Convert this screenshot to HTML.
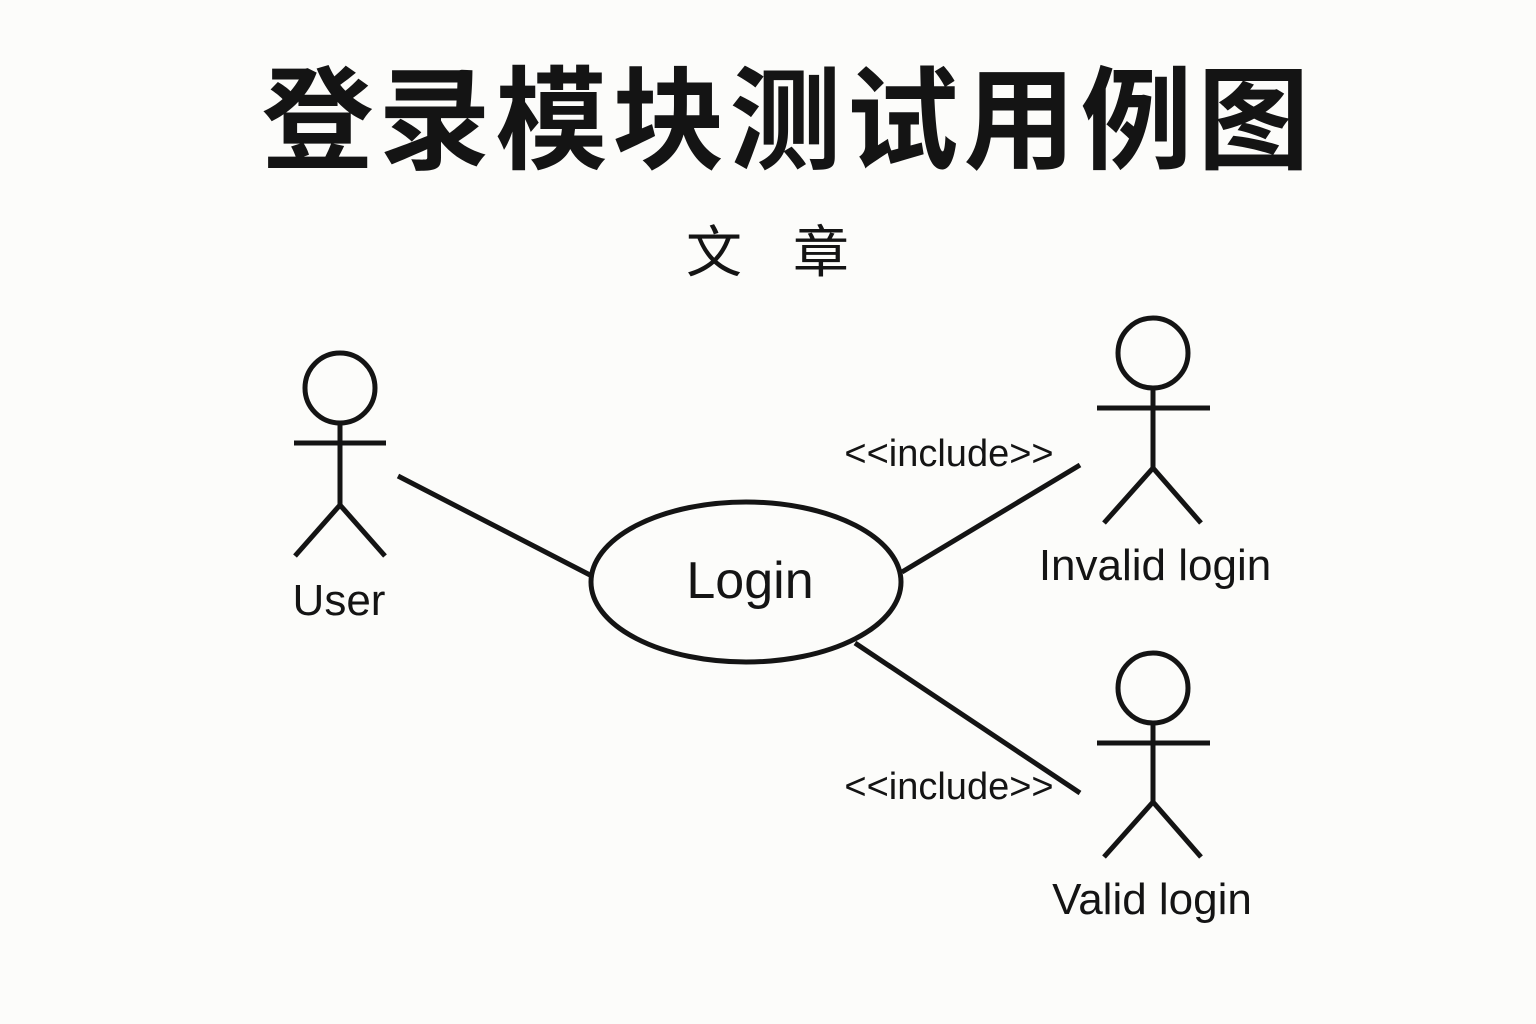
<!DOCTYPE html>
<html><head><meta charset="utf-8"><style>
html,body{margin:0;padding:0;background:#fcfcfa;}
svg{display:block}
</style></head><body>
<svg width="1536" height="1024" viewBox="0 0 1536 1024" xmlns="http://www.w3.org/2000/svg">
<rect width="1536" height="1024" fill="#fcfcfa"/>
<text x="788" y="160" text-anchor="middle" font-family="'Liberation Sans','Noto Sans CJK SC',sans-serif" font-weight="bold" font-size="112" letter-spacing="5" fill="#141414">登录模块测试用例图</text>
<g font-family="'Liberation Sans','Noto Sans CJK SC',sans-serif" font-size="56" fill="#141414" text-anchor="middle">
<text x="714" y="272">文</text>
<text x="821" y="272">章</text>
</g>
<g stroke="#141414" stroke-width="5" fill="none" stroke-linecap="butt">
<circle cx="340" cy="388" r="35"/>
<line x1="294" y1="443" x2="386" y2="443"/>
<line x1="340" y1="423" x2="340" y2="505"/>
<line x1="340" y1="505" x2="295" y2="556"/>
<line x1="340" y1="505" x2="385" y2="556"/>
<circle cx="1153" cy="353" r="35"/>
<line x1="1097" y1="408" x2="1210" y2="408"/>
<line x1="1153" y1="388" x2="1153" y2="468"/>
<line x1="1153" y1="468" x2="1104" y2="523"/>
<line x1="1153" y1="468" x2="1201" y2="523"/>
<circle cx="1153" cy="688" r="35"/>
<line x1="1097" y1="743" x2="1210" y2="743"/>
<line x1="1153" y1="723" x2="1153" y2="802"/>
<line x1="1153" y1="802" x2="1104" y2="857"/>
<line x1="1153" y1="802" x2="1201" y2="857"/>
<ellipse cx="746" cy="582" rx="155" ry="80"/>
<line x1="398" y1="476" x2="590" y2="575"/>
<line x1="902" y1="572" x2="1080" y2="465"/>
<line x1="855" y1="643" x2="1080" y2="793"/>
</g>
<g font-family="'Liberation Sans','DejaVu Sans',sans-serif" fill="#141414" text-anchor="middle">
<text x="339" y="615" font-size="44">User</text>
<text x="750" y="598" font-size="52">Login</text>
<text x="1155" y="580" font-size="44">Invalid login</text>
<text x="1152" y="914" font-size="44">Valid login</text>
<text x="949" y="466" font-size="38">&lt;&lt;include&gt;&gt;</text>
<text x="949" y="799" font-size="38">&lt;&lt;include&gt;&gt;</text>
</g>
</svg>
</body></html>
